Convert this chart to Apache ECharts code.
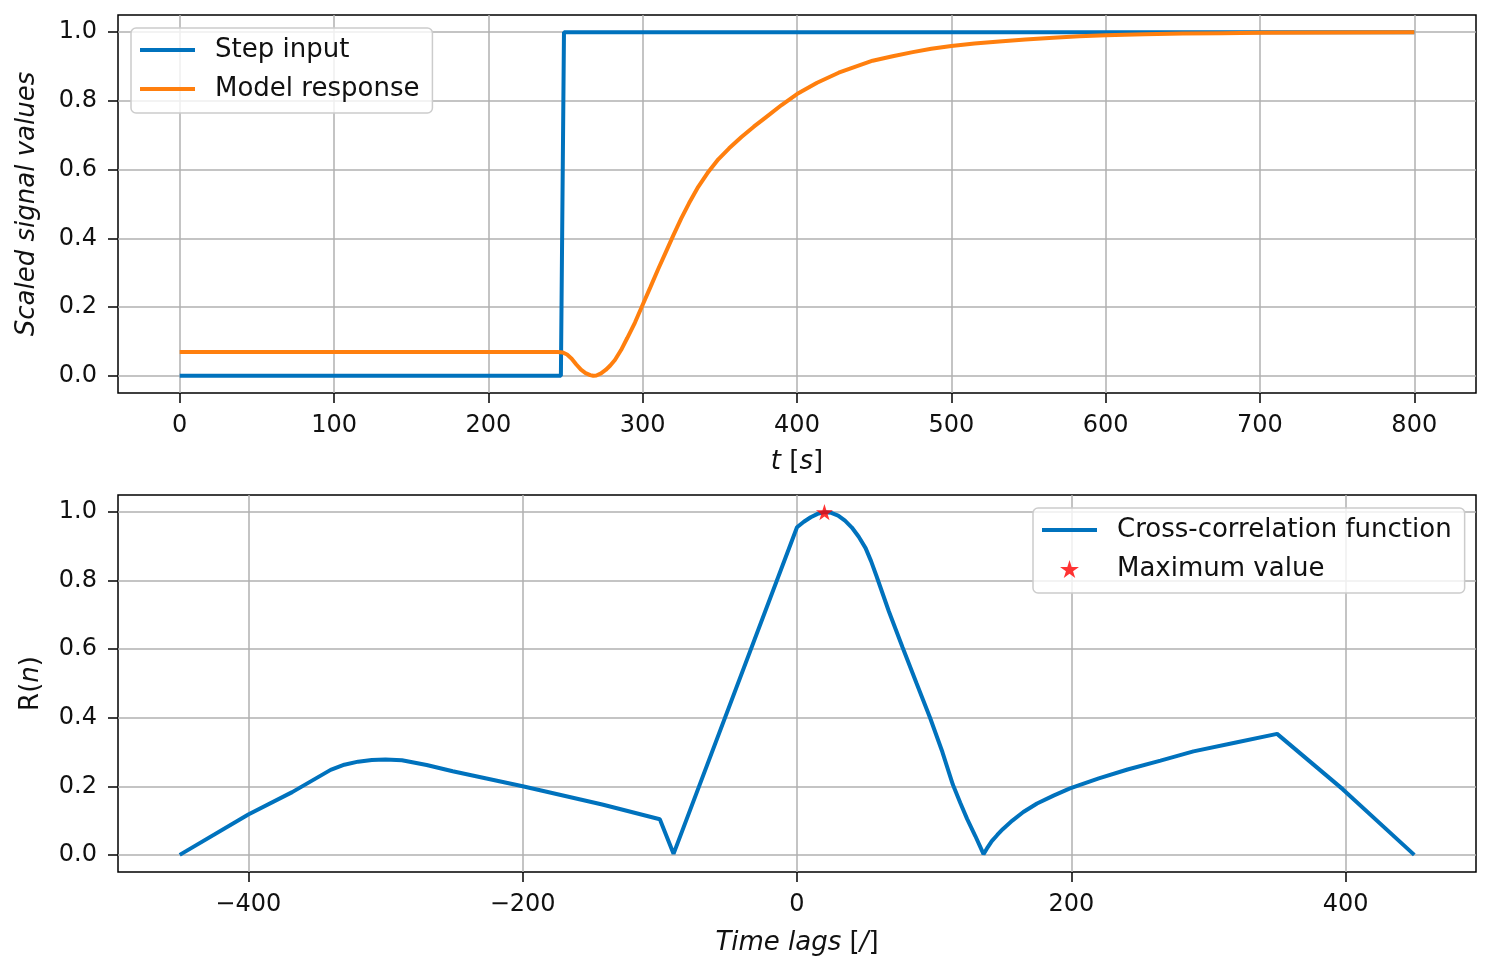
<!DOCTYPE html>
<html>
<head>
<meta charset="utf-8">
<script src="https://cdn.jsdelivr.net/npm/echarts@6.0.0/dist/echarts.min.js"></script>
<style>
  html, body { margin: 0; padding: 0; background: #fff; }
  #chart { width: 1490px; height: 969px; }
</style>
</head>
<body>
<div id="chart"></div>
<script>
// top panel: step input and model response, [t, value]
var stepInput = [[0, 0], [247, 0], [249, 1], [800, 1]];
var modelResponse = [
    [0, 0.069], [245, 0.069], [248, 0.068], [251, 0.062], [254, 0.05], [257, 0.033],
    [260, 0.018], [263, 0.008], [266, 0.002], [268, 0], [270, 0.001], [273, 0.007],
    [276, 0.017], [279, 0.03], [282, 0.046], [286, 0.075], [290, 0.11], [295, 0.155],
    [300, 0.207], [305, 0.258], [310, 0.31], [315, 0.36], [320, 0.41], [325, 0.458],
    [330, 0.502], [336, 0.55], [342, 0.59], [349, 0.63], [356, 0.662], [364, 0.695],
    [372, 0.725], [380, 0.753], [390, 0.788], [400, 0.82], [413, 0.853], [427, 0.882],
    [438, 0.9], [449, 0.917], [462, 0.93], [475, 0.942], [487, 0.952], [500, 0.96],
    [515, 0.967], [531, 0.973], [548, 0.979], [566, 0.984], [583, 0.988], [600, 0.991],
    [625, 0.994], [650, 0.996], [675, 0.997], [700, 0.998], [750, 0.999], [800, 1.0]
];

// bottom panel: cross-correlation over lags, [lag, R]
var crossCorr = [
    [-450, 0], [-400, 0.118], [-368, 0.183], [-340, 0.248], [-330, 0.263], [-320, 0.272],
    [-310, 0.277], [-300, 0.278], [-288, 0.276], [-270, 0.262], [-251, 0.244], [-200, 0.2],
    [-142, 0.147], [-100, 0.104], [-90, 0.003], [0, 0.956], [5, 0.972], [10, 0.985],
    [15, 0.995], [20, 1.0], [25, 0.998], [30, 0.99], [35, 0.975], [40, 0.955],
    [45, 0.928], [50, 0.895], [54, 0.857], [58, 0.813], [67, 0.71], [77, 0.605],
    [87, 0.502], [97, 0.4], [106, 0.3], [113.6, 0.205], [119, 0.152], [124, 0.105],
    [130, 0.055], [136, 0.002], [139, 0.022], [142, 0.04], [146, 0.058], [150, 0.075],
    [157, 0.1], [165, 0.125], [175, 0.15], [187, 0.173], [199, 0.194], [220, 0.223],
    [241, 0.249], [265, 0.275], [289, 0.302], [320, 0.328], [350, 0.353], [398, 0.191],
    [450, 0]
];
var maxPoint = [[20, 1.0]];

var tTicks = [0, 100, 200, 300, 400, 500, 600, 700, 800];
var lagTicks = [-400, -200, 0, 200, 400];
var yTicks = [0, 0.2, 0.4, 0.6, 0.8, 1.0];

var FONT = '"DejaVu Sans", sans-serif';
var TXT = '#111';
var blue = '#0072bd';
var orange = '#ff7f0e';
var LW = 4;
var starPath = 'path://M50,0 L61,35 L98,35 L68,57 L79,91 L50,70 L21,91 L32,57 L2,35 L39,35 Z';

function minusFmt(v) {
    return v < 0 ? '\u2212' + Math.abs(v) : String(v);
}

function xAxisFor(idx, lo, hi, ticks, split, name, gap) {
    return {
        type: 'value',
        gridIndex: idx,
        min: lo,
        max: hi,
        splitNumber: split,
        name: name,
        nameLocation: 'middle',
        nameGap: gap,
        nameTextStyle: {
            fontFamily: FONT, fontSize: 26, color: TXT,
            rich: { i: { fontFamily: FONT, fontSize: 26, fontStyle: 'italic', color: TXT } }
        },
        axisLine: { show: false, onZero: false },
        axisTick: { show: true, inside: false, length: 10, customValues: ticks,
            lineStyle: { color: '#000', width: 1.5 } },
        axisLabel: { customValues: ticks, margin: 21, fontFamily: FONT, fontSize: 24,
            color: TXT, formatter: minusFmt },
        splitLine: { show: true, lineStyle: { color: '#b0b0b0', width: 1.5 } }
    };
}

function yAxisFor(idx, name, gap, rich) {
    return {
        type: 'value',
        gridIndex: idx,
        min: -0.05,
        max: 1.05,
        splitNumber: 5,
        name: name,
        nameLocation: 'middle',
        nameGap: gap,
        nameTextStyle: {
            fontFamily: FONT, fontSize: 26, color: TXT,
            fontStyle: rich ? 'normal' : 'italic',
            rich: { i: { fontFamily: FONT, fontSize: 26, fontStyle: 'italic', color: TXT } }
        },
        axisLine: { show: false, onZero: false },
        axisTick: { show: true, inside: false, length: 10, customValues: yTicks,
            lineStyle: { color: '#000', width: 1.5 } },
        axisLabel: { customValues: yTicks, margin: 21, fontFamily: FONT, fontSize: 24,
            color: TXT, formatter: function (v) { return v.toFixed(1); } },
        splitLine: { show: true, lineStyle: { color: '#b0b0b0', width: 1.5 } }
    };
}

var legendBase = {
    orient: 'vertical',
    itemWidth: 55,
    itemHeight: 18,
    itemGap: 9,
    padding: [7, 13, 9, 7],
    backgroundColor: 'rgba(255,255,255,0.8)',
    borderColor: '#cccccc',
    borderWidth: 1.5,
    borderRadius: 5,
    selectedMode: false,
    lineStyle: { width: LW },
    textStyle: { fontFamily: FONT, fontSize: 26, color: TXT, lineHeight: 30, padding: [0, 0, 0, 15] }
};
// line entries: hide the marker ECharts puts on a line icon
var noMarker = { opacity: 0, color: 'rgba(0,0,0,0)', borderWidth: 0 };

var chart = echarts.init(document.getElementById('chart'));
var option = {
    animation: false,
    backgroundColor: '#fff',
    grid: [
        { left: 118, top: 15, right: 14, height: 378, show: true, borderColor: '#000', borderWidth: 1.5 },
        { left: 118, top: 495, right: 14, height: 377, show: true, borderColor: '#000', borderWidth: 1.5 }
    ],
    legend: [
        Object.assign({}, legendBase, { left: 131, top: 28, data: [
            { name: 'Step input', itemStyle: noMarker },
            { name: 'Model response', itemStyle: noMarker }
        ] }),
        Object.assign({}, legendBase, { left: 1033, top: 508, data: [
            { name: 'Cross-correlation function', itemStyle: noMarker },
            'Maximum value'
        ] })
    ],
    xAxis: [
        xAxisFor(0, -40, 840, tTicks, 9, '{i|t} [{i|s}]', 56),
        xAxisFor(1, -495, 495, lagTicks, 5, '{i|Time lags} [{i|/}]', 58)
    ],
    yAxis: [
        yAxisFor(0, 'Scaled signal values', 78, false),
        yAxisFor(1, 'R({i|n})', 74, true)
    ],
    series: [
        {
            name: 'Step input', type: 'line', xAxisIndex: 0, yAxisIndex: 0,
            data: stepInput, symbol: 'none',
            lineStyle: { color: blue, width: LW }, itemStyle: { color: blue }
        },
        {
            name: 'Model response', type: 'line', xAxisIndex: 0, yAxisIndex: 0,
            data: modelResponse, symbol: 'none',
            lineStyle: { color: orange, width: LW }, itemStyle: { color: orange }
        },
        {
            name: 'Cross-correlation function', type: 'line', xAxisIndex: 1, yAxisIndex: 1,
            data: crossCorr, symbol: 'none',
            lineStyle: { color: blue, width: LW }, itemStyle: { color: blue }
        },
        {
            name: 'Maximum value', type: 'scatter', xAxisIndex: 1, yAxisIndex: 1,
            data: maxPoint, symbol: starPath, symbolSize: 17, symbolKeepAspect: true,
            itemStyle: { color: '#ff0000' }, z: 5
        }
    ]
};

chart.setOption(option);
</script>
</body>
</html>
